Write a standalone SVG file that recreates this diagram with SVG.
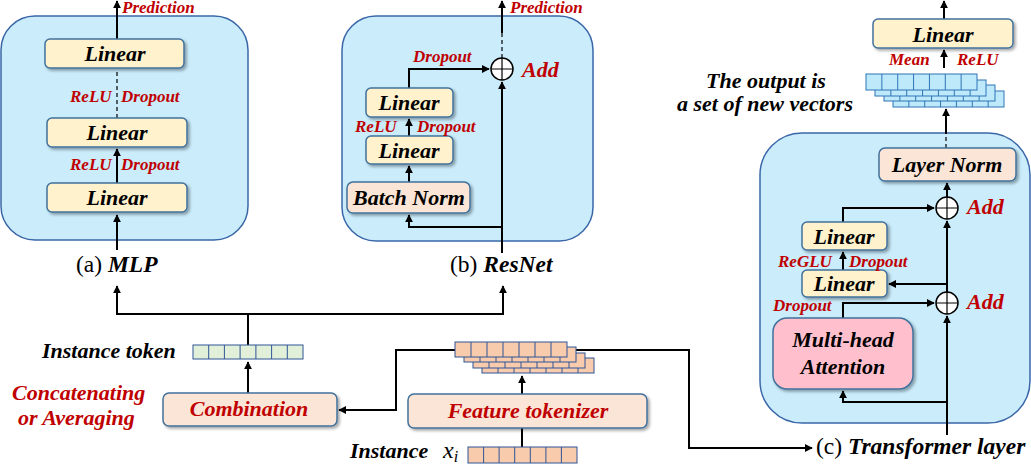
<svg xmlns="http://www.w3.org/2000/svg" xmlns:xlink="http://www.w3.org/1999/xlink" width="1031" height="467" viewBox="0 0 1031 467">
<style>
.panel{fill:#caecfb;stroke:#3a67a8;stroke-width:1.5}
.lin{fill:#fff2cc;stroke:#41719c;stroke-width:1.5}
.norm{fill:#fbe5d6;stroke:#41719c;stroke-width:1.5}
.mha{fill:#ffbfcd;stroke:#41719c;stroke-width:1.5}
.t{font-family:"Liberation Serif",serif;font-weight:bold;font-style:italic;font-size:22px;fill:#000}
.r{font-family:"Liberation Serif",serif;font-weight:bold;font-style:italic;font-size:17px;fill:#c00000}
.rb{font-family:"Liberation Serif",serif;font-weight:bold;font-style:italic;font-size:22px;fill:#c00000}
.cap{font-family:"Liberation Serif",serif;font-size:23.5px;fill:#000}
.w{stroke:#000;stroke-width:2;fill:none}
.d{stroke:#000;stroke-width:1.2;fill:none;stroke-dasharray:4 3}
.a{marker-end:url(#ah)}
.add{fill:#fff;stroke:#000;stroke-width:1.5}
.cb{fill:#bde9fb;stroke:#2e75b6;stroke-width:1}
.cp{fill:#f8cbad;stroke:#2f5597;stroke-width:1}
.cg{fill:#e2f0d9;stroke:#2f5597;stroke-width:1}
</style>
<defs>
<marker id="ah" viewBox="0 0 10 10" refX="9" refY="5" markerWidth="4" markerHeight="4" orient="auto" markerUnits="strokeWidth">
<path d="M0,0 L10,5 L0,10 z" fill="#000"/>
</marker>
<filter id="sh" x="-10%" y="-20%" width="125%" height="150%">
<feDropShadow dx="2" dy="2" stdDeviation="1.5" flood-color="#000" flood-opacity="0.35"/>
</filter>
<g id="rowB">
<rect class="cb" x="0" y="0" width="111" height="16"/>
<path d="M15.86,0v16M31.71,0v16M47.57,0v16M63.43,0v16M79.29,0v16M95.14,0v16" stroke="#2e75b6" stroke-width="1"/>
</g>
<g id="rowP">
<rect class="cp" x="0" y="0" width="112" height="15"/>
<path d="M16,0v15M32,0v15M48,0v15M64,0v15M80,0v15M96,0v15" stroke="#2f5597" stroke-width="1"/>
</g>
<g id="circ">
<circle class="add" cx="0" cy="0" r="11"/>
<path d="M-11,0H11M0,-11V11" stroke="#000" stroke-width="1.2"/>
</g>
</defs>
<rect width="1031" height="467" fill="#fff"/>

<!-- Panels -->
<g id="mlp-panel"><rect class="panel" x="1" y="16" width="247" height="224" rx="34"/></g>
<g id="resnet-panel"><rect class="panel" x="342" y="16" width="251" height="225" rx="34"/></g>
<g id="transformer-panel"><rect class="panel" x="760" y="133" width="270" height="290" rx="42"/></g>

<!-- Connectors -->
<g id="connectors">
<path class="w a" d="M117,250V215"/>
<path class="w a" d="M117,183V149"/>
<path class="d" d="M117,118V69"/>
<path class="w a" d="M117,39V1"/>
<path class="w a" d="M502,253V82"/>
<path class="w a" d="M502,227H409V215"/>
<path class="w a" d="M409,182V166"/>
<path class="w a" d="M409,136V119"/>
<path class="w a" d="M409,88V69H489"/>
<path class="d" d="M502,58V32"/>
<path class="w a" d="M502,33V1"/>
<path class="w a" d="M947,435V316"/>
<path class="w a" d="M947,402H843V391"/>
<path class="w a" d="M843,318V303H934"/>
<path class="w a" d="M947,292V221"/>
<path class="w a" d="M947,284H889"/>
<path class="w a" d="M843,270V252"/>
<path class="w a" d="M843,222V208H934"/>
<path class="w a" d="M947,197V183"/>
<path class="d" d="M946,148V133"/>
<path class="w a" d="M946,134V109"/>
<path class="w a" d="M944,68V50"/>
<path class="w a" d="M944,19V1"/>
<path class="w a" d="M248,393V362"/>
<path class="w" d="M248,345V314M117,314H503"/>
<path class="w a" d="M117,315V286"/>
<path class="w a" d="M503,315V286"/>
<path class="w a" d="M455,350H396V410H339"/>
<path class="w a" d="M567,350H689V448H812"/>
<path class="w a" d="M522,394V376"/>
<path class="w" d="M522,447V428"/>
</g>

<!-- MLP nodes -->
<g id="mlp-linear3"><rect class="lin" filter="url(#sh)" x="45" y="39" width="139" height="29" rx="5"/><text class="t" x="115" y="61" text-anchor="middle">Linear</text></g>
<g id="mlp-linear2"><rect class="lin" filter="url(#sh)" x="47" y="118" width="140" height="29" rx="5"/><text class="t" x="117" y="140" text-anchor="middle">Linear</text></g>
<g id="mlp-linear1"><rect class="lin" filter="url(#sh)" x="47" y="183" width="140" height="29" rx="5"/><text class="t" x="117" y="205" text-anchor="middle">Linear</text></g>
<g id="mlp-labels">
<text class="r" x="122" y="13">Prediction</text>
<text class="r" x="70" y="102">ReLU</text><text class="r" x="121" y="102">Dropout</text>
<text class="r" x="70" y="170">ReLU</text><text class="r" x="121" y="170">Dropout</text>
<text class="cap" x="76" y="272">(a) <tspan font-weight="bold" font-style="italic">MLP</tspan></text>
</g>

<!-- ResNet nodes -->
<g id="res-linear2"><rect class="lin" filter="url(#sh)" x="366" y="88" width="87" height="29" rx="5"/><text class="t" x="409" y="110" text-anchor="middle">Linear</text></g>
<g id="res-linear1"><rect class="lin" filter="url(#sh)" x="366" y="136" width="87" height="28" rx="5"/><text class="t" x="409" y="158" text-anchor="middle">Linear</text></g>
<g id="res-batchnorm"><rect class="norm" filter="url(#sh)" x="347" y="182" width="123" height="31" rx="6"/><text class="t" x="409" y="205" text-anchor="middle">Batch Norm</text></g>
<g id="res-add"><use href="#circ" x="502" y="69"/><text class="rb" x="522" y="77">Add</text></g>
<g id="res-labels">
<text class="r" x="510" y="13">Prediction</text>
<text class="r" x="413" y="62">Dropout</text>
<text class="r" x="355" y="132">ReLU</text><text class="r" x="417" y="132">Dropout</text>
<text class="cap" x="450" y="272">(b) <tspan font-weight="bold" font-style="italic">ResNet</tspan></text>
</g>

<!-- Transformer nodes -->
<g id="tr-layernorm"><rect class="norm" filter="url(#sh)" x="879" y="148" width="137" height="33" rx="6"/><text class="t" x="947" y="172" text-anchor="middle">Layer Norm</text></g>
<g id="tr-add1"><use href="#circ" x="947" y="208"/><text class="rb" x="967" y="214">Add</text></g>
<g id="tr-add2"><use href="#circ" x="947" y="303"/><text class="rb" x="967" y="309">Add</text></g>
<g id="tr-linearA"><rect class="lin" filter="url(#sh)" x="802" y="222" width="85" height="28" rx="5"/><text class="t" x="844" y="244" text-anchor="middle">Linear</text></g>
<g id="tr-linearB"><rect class="lin" filter="url(#sh)" x="802" y="270" width="85" height="27" rx="5"/><text class="t" x="844" y="291" text-anchor="middle">Linear</text></g>
<g id="tr-mha"><rect class="mha" filter="url(#sh)" x="773" y="318" width="140" height="71" rx="14"/><text class="t" x="843" y="347" text-anchor="middle">Multi-head</text><text class="t" x="843" y="374" text-anchor="middle">Attention</text></g>
<g id="tr-labels">
<text class="r" x="778" y="267">ReGLU</text><text class="r" x="849" y="267">Dropout</text>
<text class="r" x="773" y="311">Dropout</text>
<text class="cap" x="816" y="454">(c) <tspan font-weight="bold" font-style="italic">Transformer layer</tspan></text>
</g>

<!-- Output head -->
<g id="out-linear"><rect class="lin" filter="url(#sh)" x="873" y="19" width="140" height="29" rx="5"/><text class="t" x="943" y="42" text-anchor="middle">Linear</text></g>
<g id="out-labels"><text class="r" x="889" y="65">Mean</text><text class="r" x="957" y="65">ReLU</text></g>
<g id="out-vectors">
<use href="#rowB" x="893" y="91"/>
<use href="#rowB" x="884" y="85"/>
<use href="#rowB" x="875" y="80"/>
<use href="#rowB" x="866" y="74"/>
</g>
<g id="out-text">
<text class="t" x="766" y="88" text-anchor="middle">The output is</text>
<text class="t" x="765" y="111" text-anchor="middle">a set of new vectors</text>
</g>

<!-- Bottom nodes -->
<g id="instance-token">
<rect class="cg" x="193" y="345" width="110" height="14"/>
<path d="M208.7,345v14M224.4,345v14M240.1,345v14M255.9,345v14M271.6,345v14M287.3,345v14" stroke="#2f5597" stroke-width="1"/>
<text class="t" x="42" y="358">Instance token</text>
</g>
<g id="combination"><rect class="norm" filter="url(#sh)" x="163" y="393" width="174" height="33" rx="6"/><text class="rb" x="249" y="416" text-anchor="middle">Combination</text></g>
<g id="concat-label"><text class="rb" x="12" y="400">Concatenating</text><text class="rb" x="18" y="425">or Averaging</text></g>
<g id="feature-tokens">
<use href="#rowP" x="482" y="358"/>
<use href="#rowP" x="473" y="353"/>
<use href="#rowP" x="464" y="347"/>
<use href="#rowP" x="455" y="342"/>
</g>
<g id="feature-tokenizer"><rect class="norm" filter="url(#sh)" x="408" y="394" width="239" height="34" rx="6"/><text class="rb" x="528" y="418" text-anchor="middle">Feature tokenizer</text></g>
<g id="instance">
<rect class="cp" x="468" y="447" width="109" height="16"/>
<path d="M483.6,447v16M499.1,447v16M514.7,447v16M530.3,447v16M545.9,447v16M561.4,447v16" stroke="#2f5597" stroke-width="1"/>
<text class="t" x="350" y="458">Instance</text>
<text x="443" y="458" font-family="Liberation Serif,serif" font-style="italic" font-size="24">x<tspan font-size="16" dy="4">i</tspan></text>
</g>
</svg>
